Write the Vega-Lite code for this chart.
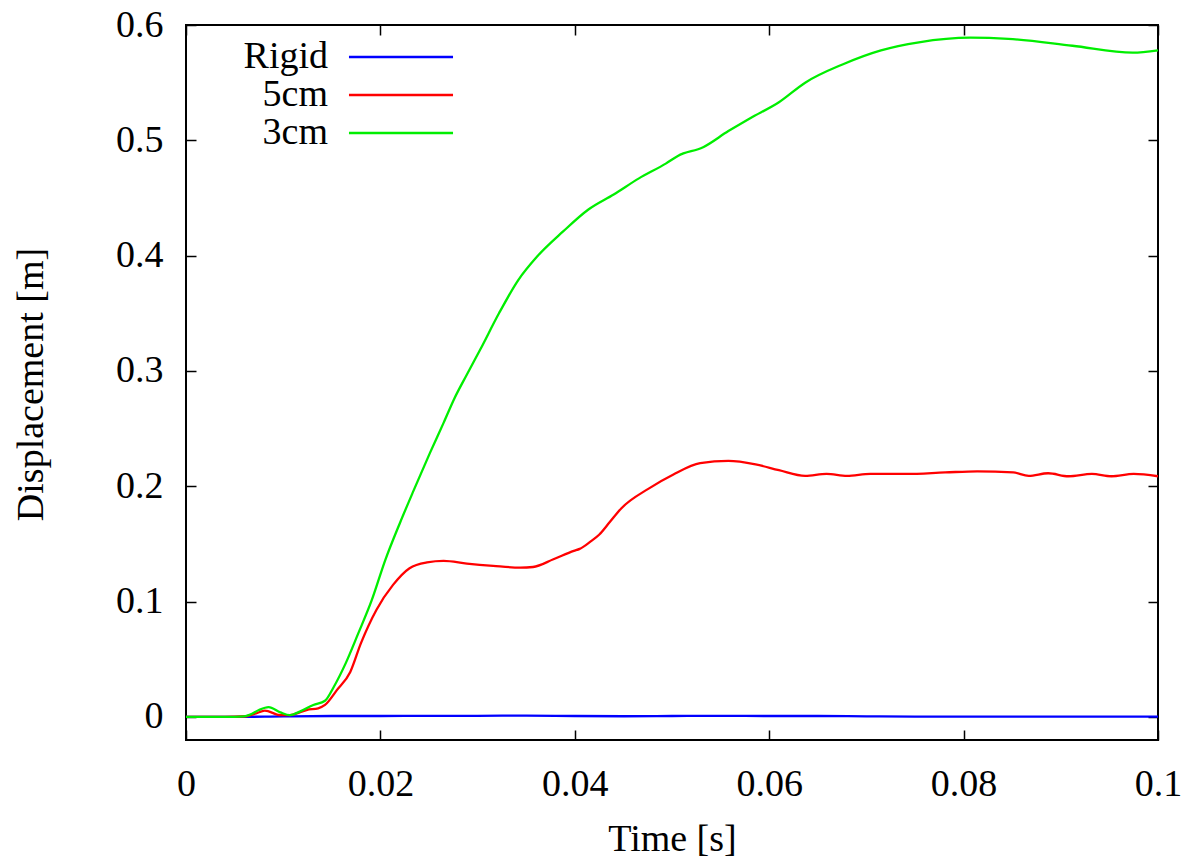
{
  "$schema": "https://vega.github.io/schema/vega-lite/v6.json",
  "width": 972,
  "height": 715,
  "autosize": {"type": "none"},
  "padding": {"left": 186, "top": 25, "right": 37, "bottom": 123},
  "background": "white",
  "config": {
    "view": {"stroke": "#000000", "strokeWidth": 2},
    "font": "Liberation Serif",
    "axis": {
      "domain": false,
      "grid": false,
      "ticks": true,
      "tickSize": -10,
      "tickColor": "#000000",
      "tickWidth": 1.5,
      "labelFlush": false,
      "labelFont": "Liberation Serif",
      "labelFontSize": 38,
      "labelColor": "#000000",
      "titleFont": "Liberation Serif",
      "titleFontSize": 38,
      "titleFontWeight": "normal",
      "titleColor": "#000000"
    }
  },
  "data": {
    "values": [
      {"series": "Rigid", "t": 0, "v": 0},
      {"series": "Rigid", "t": 0.005, "v": 0},
      {"series": "Rigid", "t": 0.01, "v": 0.0005},
      {"series": "Rigid", "t": 0.015, "v": 0.0008},
      {"series": "Rigid", "t": 0.02, "v": 0.0008},
      {"series": "Rigid", "t": 0.025, "v": 0.001},
      {"series": "Rigid", "t": 0.03, "v": 0.001},
      {"series": "Rigid", "t": 0.035, "v": 0.0012},
      {"series": "Rigid", "t": 0.04, "v": 0.0008},
      {"series": "Rigid", "t": 0.045, "v": 0.0006},
      {"series": "Rigid", "t": 0.05, "v": 0.0008},
      {"series": "Rigid", "t": 0.055, "v": 0.001},
      {"series": "Rigid", "t": 0.06, "v": 0.0008},
      {"series": "Rigid", "t": 0.065, "v": 0.0008},
      {"series": "Rigid", "t": 0.07, "v": 0.0005},
      {"series": "Rigid", "t": 0.075, "v": 0.0003},
      {"series": "Rigid", "t": 0.08, "v": 0.0003},
      {"series": "Rigid", "t": 0.085, "v": 0.0003},
      {"series": "Rigid", "t": 0.09, "v": 0.0002},
      {"series": "Rigid", "t": 0.095, "v": 0.0002},
      {"series": "Rigid", "t": 0.1, "v": 0.0002},

      {"series": "5cm", "t": 0, "v": 0},
      {"series": "5cm", "t": 0.004, "v": 0},
      {"series": "5cm", "t": 0.0062, "v": 0.0006},
      {"series": "5cm", "t": 0.0072, "v": 0.003},
      {"series": "5cm", "t": 0.0081, "v": 0.0055},
      {"series": "5cm", "t": 0.0097, "v": 0.0015},
      {"series": "5cm", "t": 0.0107, "v": 0.0015},
      {"series": "5cm", "t": 0.0117, "v": 0.004},
      {"series": "5cm", "t": 0.0124, "v": 0.006},
      {"series": "5cm", "t": 0.0136, "v": 0.0075},
      {"series": "5cm", "t": 0.0143, "v": 0.0104},
      {"series": "5cm", "t": 0.0155, "v": 0.023},
      {"series": "5cm", "t": 0.0169, "v": 0.039},
      {"series": "5cm", "t": 0.018, "v": 0.064},
      {"series": "5cm", "t": 0.0196, "v": 0.093},
      {"series": "5cm", "t": 0.0213, "v": 0.1145},
      {"series": "5cm", "t": 0.023, "v": 0.129},
      {"series": "5cm", "t": 0.0248, "v": 0.134},
      {"series": "5cm", "t": 0.0265, "v": 0.1353},
      {"series": "5cm", "t": 0.0289, "v": 0.133},
      {"series": "5cm", "t": 0.0316, "v": 0.131},
      {"series": "5cm", "t": 0.0344, "v": 0.1295},
      {"series": "5cm", "t": 0.0357, "v": 0.13},
      {"series": "5cm", "t": 0.0378, "v": 0.1367},
      {"series": "5cm", "t": 0.0399, "v": 0.144},
      {"series": "5cm", "t": 0.0405, "v": 0.1457},
      {"series": "5cm", "t": 0.0416, "v": 0.152},
      {"series": "5cm", "t": 0.0425, "v": 0.158},
      {"series": "5cm", "t": 0.0436, "v": 0.169},
      {"series": "5cm", "t": 0.0448, "v": 0.181},
      {"series": "5cm", "t": 0.0476, "v": 0.198},
      {"series": "5cm", "t": 0.0501, "v": 0.21},
      {"series": "5cm", "t": 0.0529, "v": 0.22},
      {"series": "5cm", "t": 0.0558, "v": 0.222},
      {"series": "5cm", "t": 0.0586, "v": 0.219},
      {"series": "5cm", "t": 0.061, "v": 0.214},
      {"series": "5cm", "t": 0.0637, "v": 0.209},
      {"series": "5cm", "t": 0.0659, "v": 0.2107},
      {"series": "5cm", "t": 0.068, "v": 0.209},
      {"series": "5cm", "t": 0.0704, "v": 0.2107},
      {"series": "5cm", "t": 0.0741, "v": 0.2107},
      {"series": "5cm", "t": 0.0781, "v": 0.212},
      {"series": "5cm", "t": 0.0814, "v": 0.213},
      {"series": "5cm", "t": 0.0851, "v": 0.212},
      {"series": "5cm", "t": 0.0867, "v": 0.209},
      {"series": "5cm", "t": 0.0887, "v": 0.2113},
      {"series": "5cm", "t": 0.0908, "v": 0.2087},
      {"series": "5cm", "t": 0.0932, "v": 0.2107},
      {"series": "5cm", "t": 0.0952, "v": 0.2087},
      {"series": "5cm", "t": 0.0975, "v": 0.2107},
      {"series": "5cm", "t": 0.1, "v": 0.2087},

      {"series": "3cm", "t": 0, "v": 0},
      {"series": "3cm", "t": 0.004, "v": 0},
      {"series": "3cm", "t": 0.006, "v": 0.0005},
      {"series": "3cm", "t": 0.0066, "v": 0.002},
      {"series": "3cm", "t": 0.0075, "v": 0.006},
      {"series": "3cm", "t": 0.0085, "v": 0.0085},
      {"series": "3cm", "t": 0.0097, "v": 0.004},
      {"series": "3cm", "t": 0.0107, "v": 0.0015},
      {"series": "3cm", "t": 0.0117, "v": 0.0046},
      {"series": "3cm", "t": 0.0131, "v": 0.0104},
      {"series": "3cm", "t": 0.0143, "v": 0.014},
      {"series": "3cm", "t": 0.0152, "v": 0.026},
      {"series": "3cm", "t": 0.0164, "v": 0.046},
      {"series": "3cm", "t": 0.0177, "v": 0.072},
      {"series": "3cm", "t": 0.0191, "v": 0.101},
      {"series": "3cm", "t": 0.0205, "v": 0.136},
      {"series": "3cm", "t": 0.022, "v": 0.168},
      {"series": "3cm", "t": 0.0234, "v": 0.196},
      {"series": "3cm", "t": 0.0251, "v": 0.229},
      {"series": "3cm", "t": 0.0265, "v": 0.255},
      {"series": "3cm", "t": 0.0276, "v": 0.276},
      {"series": "3cm", "t": 0.0289, "v": 0.297},
      {"series": "3cm", "t": 0.0303, "v": 0.319},
      {"series": "3cm", "t": 0.0322, "v": 0.35},
      {"series": "3cm", "t": 0.0342, "v": 0.379},
      {"series": "3cm", "t": 0.0361, "v": 0.399},
      {"series": "3cm", "t": 0.0388, "v": 0.421},
      {"series": "3cm", "t": 0.0414, "v": 0.44},
      {"series": "3cm", "t": 0.044, "v": 0.453},
      {"series": "3cm", "t": 0.0466, "v": 0.467},
      {"series": "3cm", "t": 0.0494, "v": 0.48},
      {"series": "3cm", "t": 0.0506, "v": 0.4865},
      {"series": "3cm", "t": 0.0532, "v": 0.494},
      {"series": "3cm", "t": 0.0558, "v": 0.508},
      {"series": "3cm", "t": 0.058, "v": 0.519},
      {"series": "3cm", "t": 0.061, "v": 0.533},
      {"series": "3cm", "t": 0.0637, "v": 0.55},
      {"series": "3cm", "t": 0.0676, "v": 0.566},
      {"series": "3cm", "t": 0.0715, "v": 0.578},
      {"series": "3cm", "t": 0.0754, "v": 0.585},
      {"series": "3cm", "t": 0.0807, "v": 0.589},
      {"series": "3cm", "t": 0.0846, "v": 0.588},
      {"series": "3cm", "t": 0.0912, "v": 0.582},
      {"series": "3cm", "t": 0.0974, "v": 0.576},
      {"series": "3cm", "t": 0.1, "v": 0.578}
    ]
  },
  "layer": [
    {
      "mark": {"type": "line", "strokeWidth": 2.3, "clip": true, "interpolate": "monotone"},
      "encoding": {
        "x": {
          "field": "t",
          "type": "quantitative",
          "scale": {"domain": [0, 0.1], "nice": false, "zero": false},
          "axis": {
            "orient": "bottom",
            "title": "Time [s]",
            "values": [0, 0.02, 0.04, 0.06, 0.08, 0.1],
            "format": "~g",
            "labelPadding": 35,
            "titleX": 486,
            "titleY": 110,
            "titleBaseline": "alphabetic",
            "titleAlign": "center"
          }
        },
        "y": {
          "field": "v",
          "type": "quantitative",
          "scale": {"domain": [-0.02, 0.6], "nice": false, "zero": false},
          "axis": {
            "orient": "left",
            "title": "Displacement [m]",
            "values": [0, 0.1, 0.2, 0.3, 0.4, 0.5, 0.6],
            "format": "~g",
            "labelPadding": 33,
            "titleX": -144,
            "titleY": 359,
            "titleAngle": -90,
            "titleBaseline": "alphabetic",
            "titleAlign": "center"
          }
        },
        "color": {
          "field": "series",
          "type": "nominal",
          "scale": {"domain": ["Rigid", "5cm", "3cm"], "range": ["#0000ff", "#ff0000", "#00ee00"]},
          "legend": {
            "title": null,
            "orient": "none",
            "legendX": 196,
            "legendY": 13,
            "padding": 0,
            "symbolType": "M-5,0L5,0",
            "symbolSize": 433,
            "symbolStrokeWidth": 2.3,
            "symbolFillColor": "transparent",
            "labelFont": "Liberation Serif",
            "labelFontSize": 38,
            "labelColor": "#000000",
            "labelAlign": "right",
            "labelOffset": -92,
            "labelLimit": 300,
            "rowPadding": 0
          }
        }
      }
    },
    {
      "mark": {"type": "line", "opacity": 0},
      "encoding": {
        "x": {
          "field": "t",
          "type": "quantitative",
          "axis": {"orient": "top", "labels": false, "title": null, "values": [0, 0.02, 0.04, 0.06, 0.08, 0.1]}
        },
        "y": {
          "field": "v",
          "type": "quantitative",
          "axis": {"orient": "right", "labels": false, "title": null, "values": [0, 0.1, 0.2, 0.3, 0.4, 0.5, 0.6]}
        },
        "detail": {"field": "series"}
      }
    }
  ],
  "resolve": {"axis": {"x": "independent", "y": "independent"}}
}
